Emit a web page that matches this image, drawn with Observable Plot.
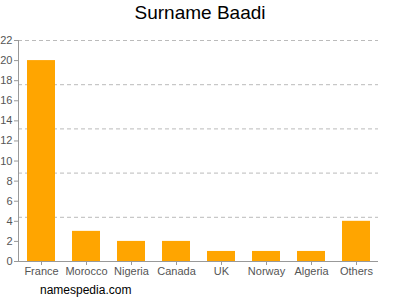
<!DOCTYPE html>
<html>
<head>
<meta charset="utf-8">
<script src="https://cdn.jsdelivr.net/npm/d3@7"></script>
<script src="https://cdn.jsdelivr.net/npm/@observablehq/plot@0.6"></script>
<style>
  body { margin: 0; background: #fff; font-family: "Liberation Sans", Arial, sans-serif; }
  #wrap { position: relative; width: 400px; height: 300px; overflow: hidden; }
  #title { position: absolute; top: 2px; left: 0; width: 400px; text-align: center; font-size: 19px; color: #000; }
  #caption { position: absolute; top: 283px; left: 40px; font-size: 12px; color: #000; }
  #chart { position: absolute; top: 0; left: 0; }
</style>
</head>
<body>
<div id="wrap">
  <div id="chart"></div>
  <div id="title">Surname Baadi</div>
  <div id="caption">namespedia.com</div>
</div>
<script>
const countries = ["France", "Morocco", "Nigeria", "Canada", "UK", "Norway", "Algeria", "Others"];
const counts = [20, 3, 2, 2, 1, 1, 1, 4];
const yTicks = [0, 2, 4, 6, 8, 10, 12, 14, 16, 18, 20, 22];
const gridLines = [4.4, 8.8, 13.2, 17.6, 22];

const data = countries.map((c, i) => ({country: c, count: counts[i]}));

const chart = Plot.plot({
  width: 400,
  height: 300,
  marginTop: 40,
  marginBottom: 39,
  marginLeft: 18,
  marginRight: 22,
  style: {fontFamily: "Liberation Sans, Arial, sans-serif", fontSize: "11px", color: "#555", background: "transparent"},
  x: {domain: countries, paddingInner: 0.378, paddingOuter: 0.189, label: null},
  y: {domain: [0, 22], label: null},
  marks: [
    Plot.ruleY(gridLines, {stroke: "#bbb", strokeDasharray: "4,3"}),
    Plot.barY(data, {x: "country", y: "count", fill: "#ffa500"}),
    Plot.axisY({ticks: yTicks, tickSize: 4, tickPadding: 2, stroke: "#999", fill: "#555", label: null}),
    Plot.axisX({tickSize: 4, tickPadding: 2, stroke: "#999", fill: "#555", label: null}),
    Plot.ruleY([0], {stroke: "#999"}),
    Plot.frame({anchor: "left", stroke: "#999"})
  ]
});
document.getElementById("chart").appendChild(chart);
</script>
</body>
</html>
